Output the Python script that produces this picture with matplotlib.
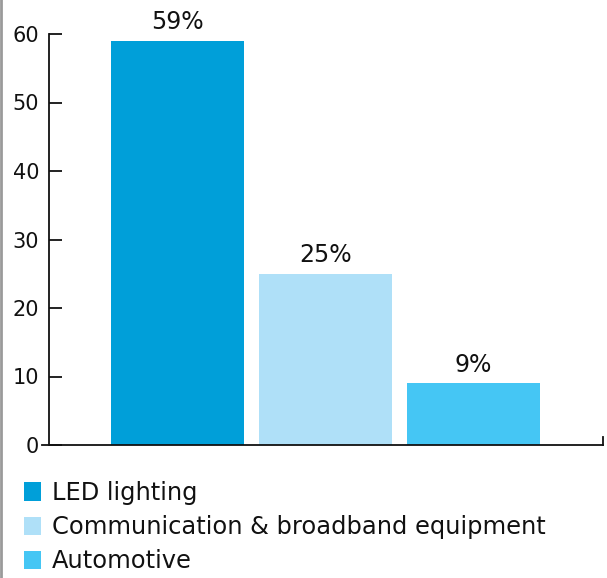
import matplotlib
matplotlib.use("Agg")
import matplotlib.pyplot as plt
from matplotlib.lines import Line2D

# data
categories = ["LED lighting", "Communication & broadband equipment", "Automotive"]
shares = [59, 25, 9]
bar_labels = ["59%", "25%", "9%"]
colors = ["#009fd9", "#afe0f8", "#45c6f4"]
yticks = [0, 10, 20, 30, 40, 50, 60]

plt.rcParams['font.family'] = ['DejaVu Sans']

W, H = 607, 578
fig = plt.figure(figsize=(W / 100, H / 100), dpi=100)
# axes spans pixel x 42..603, y 34..445
ax = fig.add_axes([42 / W, (H - 445) / H, (603 - 42) / W, (445 - 34) / H])

xs = list(range(len(shares)))
bars = ax.bar(xs, shares, width=0.9, color=colors, label=categories, zorder=2)
for b, txt in zip(bars, bar_labels):
    ax.text(b.get_x() + b.get_width() / 2, b.get_height() + 1.0, txt,
            ha="center", va="bottom", fontsize=17, color="#111111")

# bar centres at px 177.5, 325.5, 473.5 -> 148 px per unit
left = 0 - (177.5 - 42) / 148
right = 2 + (603 - 473.5) / 148
ax.set_xlim(left, right)
ax.set_ylim(0, 60)

ax.spines["top"].set_visible(False)
ax.spines["right"].set_visible(False)
ax.spines["left"].set_position(("axes", 7 / 561))
for s in ("left", "bottom"):
    ax.spines[s].set_linewidth(1.3)
    ax.spines[s].set_color("#111111")

ax.set_xticks([])
ax.set_yticks(yticks)
ax.tick_params(axis="y", direction="in", length=9.5, width=1.3, pad=7,
               labelsize=15, colors="#111111")
# small upward tick at the end of the x axis
ax.add_line(Line2D([1, 1], [0, 0.02], transform=ax.transAxes, color="#111111",
                   lw=1.3, clip_on=False))

leg = fig.legend(handles=bars, labels=categories, loc="upper left",
                 bbox_to_anchor=(24 / W, 1 - 481 / H), frameon=False,
                 fontsize=17.4, handlelength=0.72, handleheight=0.8,
                 handletextpad=0.45, labelspacing=0.42, borderaxespad=0,
                 borderpad=0)
for t in leg.get_texts():
    t.set_color("#111111")

# grey border on the left edge
fig.add_artist(Line2D([1 / W, 1 / W], [0, 1], transform=fig.transFigure,
                      color="#9a9a9a", lw=2))

fig.savefig("out.png", dpi=100)
